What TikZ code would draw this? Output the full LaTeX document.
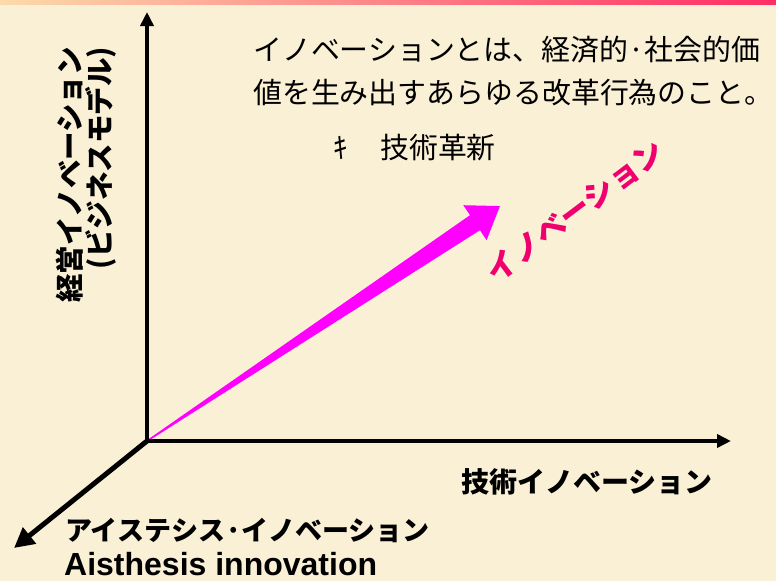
\documentclass[tikz,border=0pt]{standalone}
\usepackage{fontspec}
\usetikzlibrary{arrows.meta}
\newfontfamily\jp{Noto Sans CJK JP}
\newfontfamily\lat{Liberation Sans}
\definecolor{bgcol}{RGB}{250,240,214}
\definecolor{barL}{RGB}{252,218,170}
\definecolor{barR}{RGB}{255,45,100}
\definecolor{arrmag}{RGB}{255,0,255}
\definecolor{txtpink}{RGB}{240,0,110}
\tikzset{
  axis/.style={line width=3.6pt, -{Triangle[length=14pt,width=13pt]}},
  zaxis/.style={line width=5pt, -{Triangle[length=20pt,width=20pt]}},
  plain/.style={font=\jp\fontsize{28.9}{32}\selectfont, inner sep=0pt, anchor=west},
  lbl/.style={font=\jp\bfseries\fontsize{28}{32}\selectfont, inner sep=0pt},
}
\begin{document}
\begin{tikzpicture}[x=1pt,y=-1pt]
\fill[bgcol] (0,0) rectangle (776,581);
\shade[left color=barL, right color=barR] (0,0) rectangle (776,4);
\useasboundingbox (0,0) rectangle (776,581);

\coordinate (O) at (147,441);
\coordinate (Ytop) at (147,12);
\coordinate (Xend) at (731,441);
\coordinate (Zend) at (14,548);

% magenta tapered arrow
\begin{scope}[shift={(O)}, rotate=33.65]
  \fill[arrmag] (0,0.7) -- (394,9) -- (394,21) -- (424,0) -- (394,-21) -- (394,-9) -- (0,-0.7) -- cycle;
\end{scope}

\draw[axis] (O) -- (Ytop);
\draw[axis] (O) -- (Xend);
\draw[zaxis] (O) -- (Zend);

\node[plain] (t1) at (253,50) {イノベーションとは、経済的·社会的価};
\node[plain] (t2) at (253,93) {値を生み出すあらゆる改革行為のこと。};
\node[plain] (b1) at (333,148) {ｷ};
\node[plain] (b2) at (380,148) {技術革新};

\node[lbl, rotate=90, font=\jp\bfseries\fontsize{28.5}{32}\selectfont] (v1) at (70,175) {経営イノベーション};
\node[lbl, rotate=90, font=\jp\bfseries\fontsize{28.5}{32}\selectfont] (v2) at (101,158) {(ビジネスモデル)};

\node[lbl, anchor=west] (xl) at (461,482) {技術イノベーション};
\node[lbl, anchor=west, font=\jp\bfseries\fontsize{27}{32}\selectfont] (zl1) at (65,530) {アイステシス·イノベーション};
\node[font=\lat\bfseries\fontsize{32}{34}\selectfont, inner sep=0pt, anchor=west] (zl2) at (64,564) {Aisthesis innovation};

\node[lbl, text=txtpink, rotate=37, font=\jp\bfseries\fontsize{30.5}{34}\selectfont] (pk) at (575,211) {イノベーション};
\end{tikzpicture}
\end{document}
